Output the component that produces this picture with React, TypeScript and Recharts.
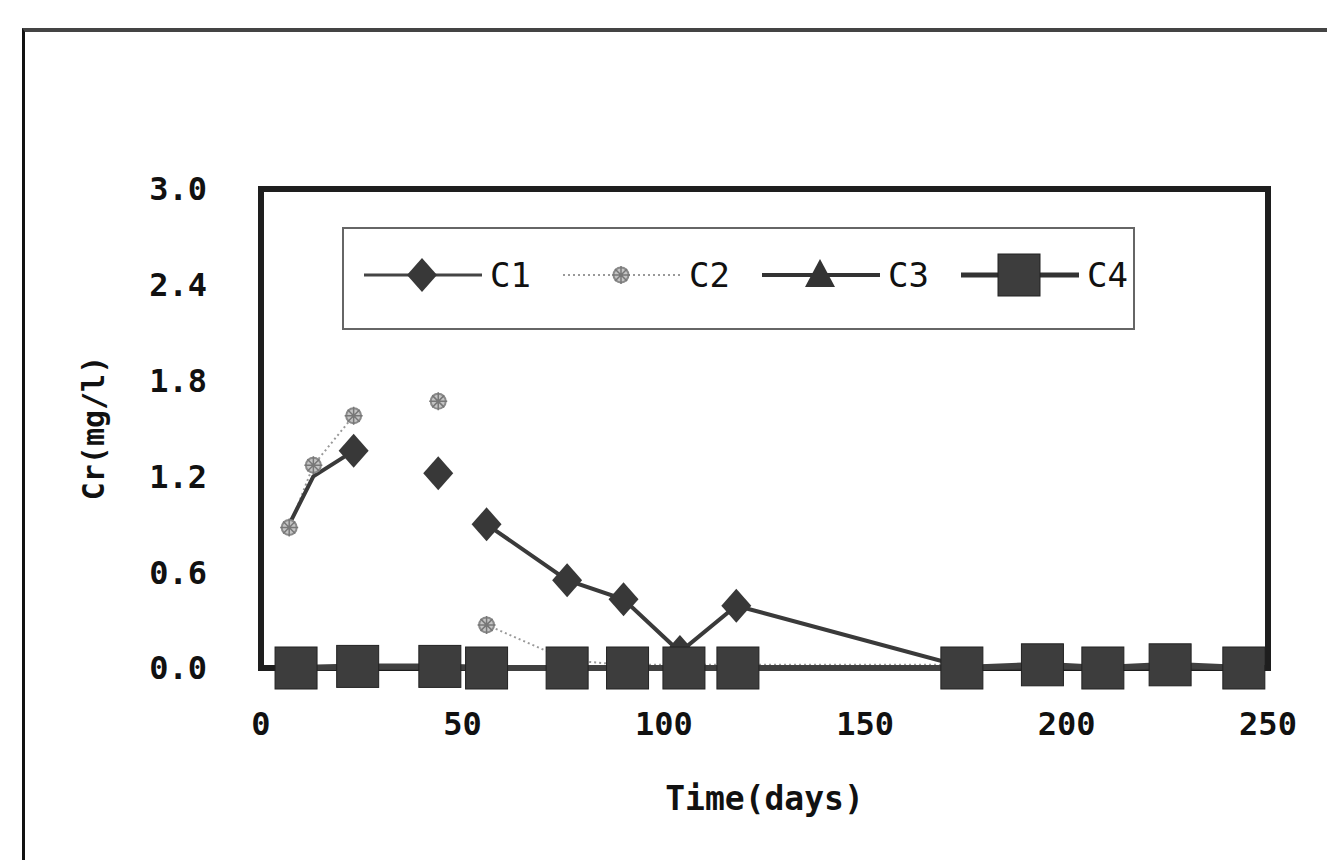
import { LineChart, Line, XAxis, YAxis, ReferenceArea, Legend } from 'recharts';

// C1 / C2 sampled on the same days; nulls break the lines
const c12Days = [7, 13, 23, 33, 44, 50, 56, 76, 90, 104, 118, 174, 194, 209, 226, 244];
const c1Values = [0.9, 1.2, 1.36, null, 1.22, null, 0.9, 0.55, 0.43, 0.1, 0.39, 0.01, 0, 0, 0, 0];
const c2Values = [0.88, 1.27, 1.58, null, 1.67, null, 0.27, 0.05, 0.02, 0.02, 0.02, 0.02, 0.01, 0, 0, 0];

// C3 / C4 sampled on the square positions
const c34Days = [8.7, 24, 44.4, 56, 76, 91, 105, 118.4, 174, 194, 209, 225.7, 244];
const c3Values = [0, 0, 0, 0, 0, 0, 0, 0, 0, 0, 0, 0, 0];
const c4Values = [0, 0.01, 0.01, 0, 0, 0, 0, 0, 0, 0.02, 0, 0.02, 0];

const xTicks = [0, 50, 100, 150, 200, 250];
const yTicks = [0, 0.6, 1.2, 1.8, 2.4, 3.0];
const seriesNames = ['C1', 'C2', 'C3', 'C4'];

const c1Data = c12Days.map((d, i) => ({ day: d, v: c1Values[i] }));
const c2Data = c12Days.map((d, i) => ({ day: d, v: c2Values[i] }));
const c3Data = c34Days.map((d, i) => ({ day: d, v: c3Values[i] }));
const c4Data = c34Days.map((d, i) => ({ day: d, v: c4Values[i] }));

const FONT = '"DejaVu Sans Mono", monospace';

const Diamond = ({ cx, cy }: { cx: number; cy: number }) => (
  <path d={`M${cx},${cy - 17} L${cx + 15},${cy} L${cx},${cy + 17} L${cx - 15},${cy} Z`} fill="#383838" />
);
const Star = ({ cx, cy }: { cx: number; cy: number }) => (
  <g>
    <circle cx={cx} cy={cy} r={7.5} fill="#c4c4c4" stroke="#8a8a8a" strokeWidth={2} />
    <path
      d={`M${cx - 9},${cy} H${cx + 9} M${cx},${cy - 9} V${cy + 9} M${cx - 6},${cy - 6} L${cx + 6},${cy + 6} M${cx + 6},${cy - 6} L${cx - 6},${cy + 6}`}
      stroke="#777"
      strokeWidth={1.5}
    />
  </g>
);
const Triangle = ({ cx, cy }: { cx: number; cy: number }) => (
  <path d={`M${cx},${cy - 16} L${cx + 15},${cy + 12} L${cx - 15},${cy + 12} Z`} fill="#333" />
);
const Square = ({ cx, cy }: { cx: number; cy: number }) => (
  <rect x={cx - 21} y={cy - 21} width={42} height={42} fill="#3d3d3d" stroke="#222" strokeWidth={1} />
);

const dotOf = (Shape: typeof Diamond, skipFirst = 0) => (p: any) => {
  const key = `${p.dataKey}-${p.index}`;
  if (p.cx == null || p.cy == null || p.value == null || p.index < skipFirst) return <g key={key} />;
  return <Shape key={key} cx={p.cx} cy={p.cy} />;
};

const legendMarkers = [Diamond, Star, Triangle, Square];
const legendStrokes = [
  { stroke: '#444', width: 3, dash: undefined },
  { stroke: '#999', width: 2, dash: '2 3' },
  { stroke: '#333', width: 4, dash: undefined },
  { stroke: '#333', width: 5, dash: undefined },
];

const LegendBox = () => (
  <svg width={793} height={103}>
    {seriesNames.map((name, i) => {
      const x0 = 20 + i * 199;
      const M = legendMarkers[i];
      const s = legendStrokes[i];
      return (
        <g key={name}>
          <line x1={x0} x2={x0 + 118} y1={46} y2={46} stroke={s.stroke} strokeWidth={s.width} strokeDasharray={s.dash} />
          <M cx={x0 + 58} cy={46} />
          <text x={x0 + 126} y={46} dominantBaseline="central" fontFamily={FONT} fontSize={34} fill="#111">
            {name}
          </text>
        </g>
      );
    })}
  </svg>
);

export default function App() {
  return (
    <div style={{ position: 'absolute', left: 0, top: 0, width: 1327, height: 860, background: '#fff', overflow: 'hidden' }}>
      <div
        style={{
          position: 'absolute',
          left: 22,
          top: 28,
          width: 1340,
          height: 900,
          borderTop: '4px solid #444',
          borderLeft: '3px solid #111',
        }}
      />
      <LineChart
        width={1327}
        height={860}
        margin={{ top: 189, right: 59, left: 141, bottom: 42 }}
        style={{ position: 'absolute', left: 0, top: 0 }}
      >
        <ReferenceArea x1={0} x2={250} y1={0} y2={3} fill="none" stroke="#1e1e1e" strokeWidth={6} ifOverflow="visible" />
        <XAxis
          dataKey="day"
          type="number"
          domain={[0, 250]}
          ticks={xTicks}
          height={150}
          axisLine={false}
          tickLine={false}
          tickSize={0}
          tickMargin={44}
          tick={{ fontFamily: FONT, fontSize: 32, fontWeight: 'bold', fill: '#111' }}
          label={{ value: 'Time(days)', position: 'insideBottom', offset: 8, fontFamily: FONT, fontSize: 33, fontWeight: 'bold', fill: '#111' }}
        />
        <YAxis
          type="number"
          domain={[0, 3]}
          ticks={yTicks}
          width={120}
          axisLine={false}
          tickLine={false}
          tickSize={0}
          tickMargin={54}
          tickFormatter={(v: number) => v.toFixed(1)}
          tick={{ fontFamily: FONT, fontSize: 32, fontWeight: 'bold', fill: '#111' }}
          label={{
            content: () => (
              <text
                x={93}
                y={428}
                transform="rotate(-90 93 428)"
                textAnchor="middle"
                dominantBaseline="central"
                fontFamily={FONT}
                fontSize={30}
                fontWeight="bold"
                fill="#111"
              >
                Cr(mg/l)
              </text>
            ),
          }}
        />
        <Legend
          layout="vertical"
          align="center"
          verticalAlign="middle"
          content={() => <LegendBox />}
          wrapperStyle={{
            left: 342,
            top: 227,
            width: 793,
            height: 103,
            border: '2px solid #666',
            boxSizing: 'border-box',
            background: '#fff',
          }}
        />
        <Line
          name="C2"
          data={c2Data}
          dataKey="v"
          stroke="#999"
          strokeWidth={2}
          strokeDasharray="2 3"
          dot={dotOf(Star)}
          activeDot={false}
          isAnimationActive={false}
        />
        <Line
          name="C1"
          data={c1Data}
          dataKey="v"
          stroke="#3a3a3a"
          strokeWidth={4}
          dot={dotOf(Diamond, 2)}
          activeDot={false}
          isAnimationActive={false}
        />
        <Line
          name="C3"
          data={c3Data}
          dataKey="v"
          stroke="#333"
          strokeWidth={4}
          dot={dotOf(Triangle)}
          activeDot={false}
          isAnimationActive={false}
        />
        <Line
          name="C4"
          data={c4Data}
          dataKey="v"
          stroke="#404040"
          strokeWidth={6}
          dot={dotOf(Square)}
          activeDot={false}
          isAnimationActive={false}
        />
      </LineChart>
    </div>
  );
}
